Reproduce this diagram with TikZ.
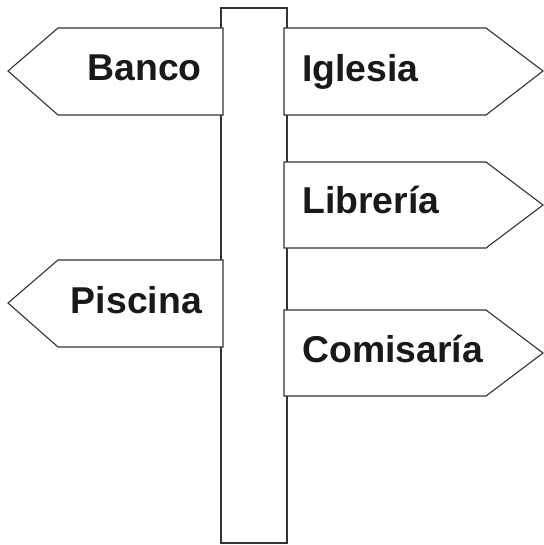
\documentclass[tikz,border=0pt]{standalone}
\usepackage{fontspec}
\setmainfont{Liberation Sans}
\begin{document}
\begin{tikzpicture}[x=1bp, y=-1bp,
    board/.style={draw=black!80, fill=white, line width=1.1bp},
    signtext/.style={font=\fontsize{37.5}{42}\selectfont\bfseries, text=black!90, inner sep=0pt}]
        \useasboundingbox (0,0) rectangle (544,545);
        \draw[board] (221,8) rectangle (287,543);
        \draw[board] (223,28) -- (58,28) -- (8,71) -- (58,115) -- (223,115) -- cycle;
        \draw[board] (284,28) -- (486,28) -- (543,71) -- (486,115) -- (284,115) -- cycle;
        \draw[board] (284,162) -- (486,162) -- (543,205) -- (486,248) -- (284,248) -- cycle;
        \draw[board] (223,260) -- (58,260) -- (8,303) -- (58,347) -- (223,347) -- cycle;
        \draw[board] (284,310) -- (486,310) -- (543,353) -- (486,396) -- (284,396) -- cycle;
        \node[signtext, anchor=base east] (banco) at (202,81) {Banco};
        \node[signtext, anchor=base west] (iglesia) at (302,82) {Iglesia};
        \node[signtext, anchor=base west] (libreria) at (302,214) {Librería};
        \node[signtext, anchor=base east] (piscina) at (202,313) {Piscina};
        \node[signtext, anchor=base west] (comisaria) at (302,362) {Comisaría};
      \end{tikzpicture}
\end{document}
